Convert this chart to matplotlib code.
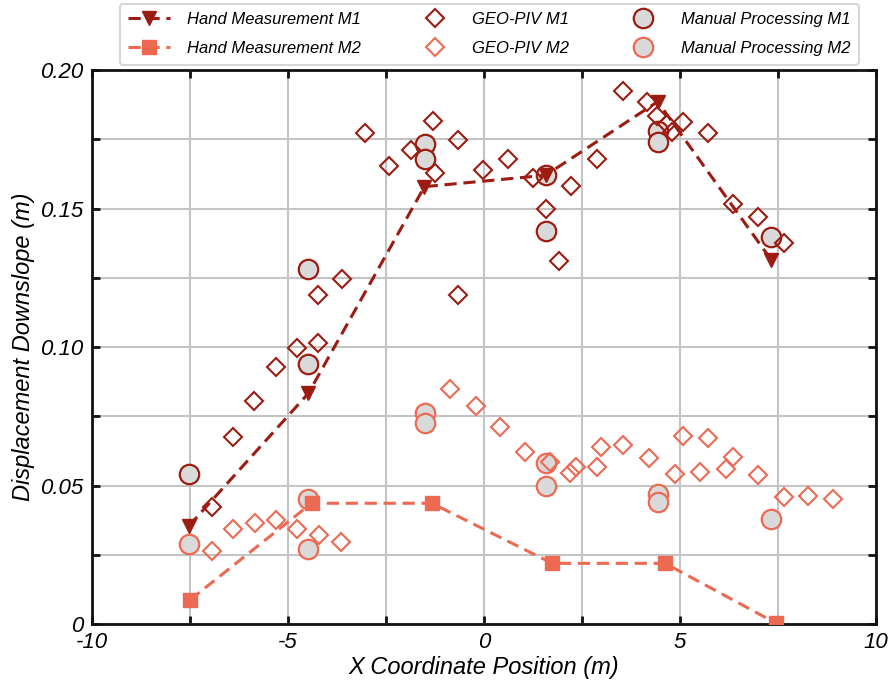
import matplotlib
matplotlib.use("Agg")
import matplotlib.pyplot as plt
from matplotlib.ticker import MultipleLocator, FuncFormatter

plt.rcParams['font.family'] = ['Liberation Sans', 'DejaVu Sans']
plt.rcParams['font.style'] = 'italic'

# ---- data ----
hand_m1_x = [-7.53, -4.48, -1.52, 1.57, 4.43, 7.32]
hand_m1_y = [0.0354, 0.0833, 0.1579, 0.1620, 0.1886, 0.1316]

hand_m2_x = [-7.50, -4.40, -1.33, 1.74, 4.62, 7.45]
hand_m2_y = [0.0087, 0.0436, 0.0436, 0.0219, 0.0219, 0.0003]

manual_m1_x = [-7.53, -4.48, -4.48, -1.505, -1.505, 1.57, 1.57, 4.43, 4.43, 7.32]
manual_m1_y = [0.0540, 0.1280, 0.0939, 0.1732, 0.1679, 0.1620, 0.1420, 0.1780, 0.1739, 0.1398]

manual_m2_x = [-7.53, -4.48, -4.48, -1.505, -1.505, 1.57, 1.57, 4.43, 4.43, 7.32]
manual_m2_y = [0.0289, 0.0450, 0.0270, 0.0761, 0.0727, 0.0580, 0.0499, 0.0469, 0.0439, 0.0379]

geo_m1_x = [-6.95, -6.40, -5.87, -5.31, -4.76, -4.23, -4.23, -3.63, -3.04, -2.43,
            -1.87, -1.29, -1.25, -0.67, -0.66, -0.02, 0.62, 1.26, 1.57, 1.91,
            2.21, 2.87, 3.55, 4.17, 4.42, 4.66, 4.79, 5.07, 5.72, 6.34, 6.98, 7.64]
geo_m1_y = [0.0424, 0.0676, 0.0806, 0.0927, 0.0998, 0.1016, 0.1187, 0.1244, 0.1774, 0.1653,
            0.1711, 0.1817, 0.1629, 0.1747, 0.1187, 0.1641, 0.1679, 0.1609, 0.1498, 0.1310,
            0.1581, 0.1678, 0.1925, 0.1886, 0.1835, 0.1804, 0.1777, 0.1813, 0.1771, 0.1516, 0.1470, 0.1377]

geo_m2_x = [-6.95, -6.40, -5.85, -5.31, -4.76, -4.20, -3.66, -0.87, -0.21, 0.41,
            1.05, 1.68, 2.19, 2.35, 2.87, 2.98, 3.55, 4.21, 4.86, 5.07,
            5.51, 5.71, 6.17, 6.36, 6.98, 7.64, 8.27, 8.91]
geo_m2_y = [0.0265, 0.0342, 0.0366, 0.0375, 0.0343, 0.0321, 0.0297, 0.0847, 0.0787, 0.0712,
            0.0622, 0.0584, 0.0544, 0.0566, 0.0568, 0.0640, 0.0646, 0.0598, 0.0540, 0.0679,
            0.0550, 0.0670, 0.0558, 0.0602, 0.0538, 0.0460, 0.0463, 0.0451]

C1 = '#9C1C12'
C2 = '#EC6A52'
FACE = '#D9D9D9'

fig = plt.figure(figsize=(8.96, 6.87), dpi=100)
ax = fig.add_axes([0.1027, 0.0917, 0.875, 0.8063])

ax.plot(hand_m1_x, hand_m1_y, linestyle='--', dashes=(4, 2.2), color=C1, lw=2.2,
        marker='v', ms=10, mec=C1, mfc=C1, label='Hand Measurement M1', zorder=3)
ax.plot(hand_m2_x, hand_m2_y, linestyle='--', dashes=(4, 2.2), color=C2, lw=2.2,
        marker='s', ms=9.5, mec=C2, mfc=C2, label='Hand Measurement M2', zorder=3)
ax.plot(geo_m1_x, geo_m1_y, linestyle='none', marker='D', ms=8.7, mfc='none',
        mec=C1, mew=1.5, label='GEO-PIV M1', zorder=4)
ax.plot(geo_m2_x, geo_m2_y, linestyle='none', marker='D', ms=8.7, mfc='none',
        mec=C2, mew=1.5, label='GEO-PIV M2', zorder=4)
ax.plot(manual_m1_x, manual_m1_y, linestyle='none', marker='o', ms=14, mfc=FACE,
        mec=C1, mew=1.6, label='Manual Processing M1', zorder=2.5)
ax.plot(manual_m2_x, manual_m2_y, linestyle='none', marker='o', ms=14, mfc=FACE,
        mec=C2, mew=1.6, label='Manual Processing M2', zorder=2.5)

ax.set_xlim(-10, 10)
ax.set_ylim(0, 0.20)
ax.xaxis.set_major_locator(MultipleLocator(2.5))
ax.yaxis.set_major_locator(MultipleLocator(0.025))

def xfmt(v, p):
    if abs(v / 5 - round(v / 5)) < 1e-6:
        return '%d' % round(v)
    return ''

def yfmt(v, p):
    if abs(v / 0.05 - round(v / 0.05)) < 1e-6:
        if abs(v) < 1e-9:
            return '0'
        return '%.2f' % v
    return ''

ax.xaxis.set_major_formatter(FuncFormatter(xfmt))
ax.yaxis.set_major_formatter(FuncFormatter(yfmt))
ax.tick_params(direction='in', length=6, width=2, top=True, right=True,
               labelsize=16, color='#111111', pad=6)
for t in ax.get_xticklabels() + ax.get_yticklabels():
    t.set_fontstyle('italic')
for s in ax.spines.values():
    s.set_linewidth(2)
    s.set_color('#111111')
ax.grid(True, color='#C4C4C4', lw=1.5, zorder=0)
ax.set_axisbelow(True)

ax.set_xlabel('X Coordinate Position (m)', fontsize=17, fontstyle='italic', labelpad=2)
ax.set_ylabel('Displacement Downslope (m)', fontsize=17, fontstyle='italic', labelpad=4)

leg = fig.legend(loc='upper center', bbox_to_anchor=(0.546, 0.997), ncol=3,
                 fontsize=12, frameon=True, fancybox=True, edgecolor='#CCCCCC',
                 handlelength=2.5, columnspacing=3.2, handletextpad=1.0,
                 borderpad=0.5, labelspacing=0.85, borderaxespad=0.1)
leg.get_frame().set_linewidth(1.5)
for t in leg.get_texts():
    t.set_fontstyle('italic')

fig.savefig('out.png', dpi=100)
